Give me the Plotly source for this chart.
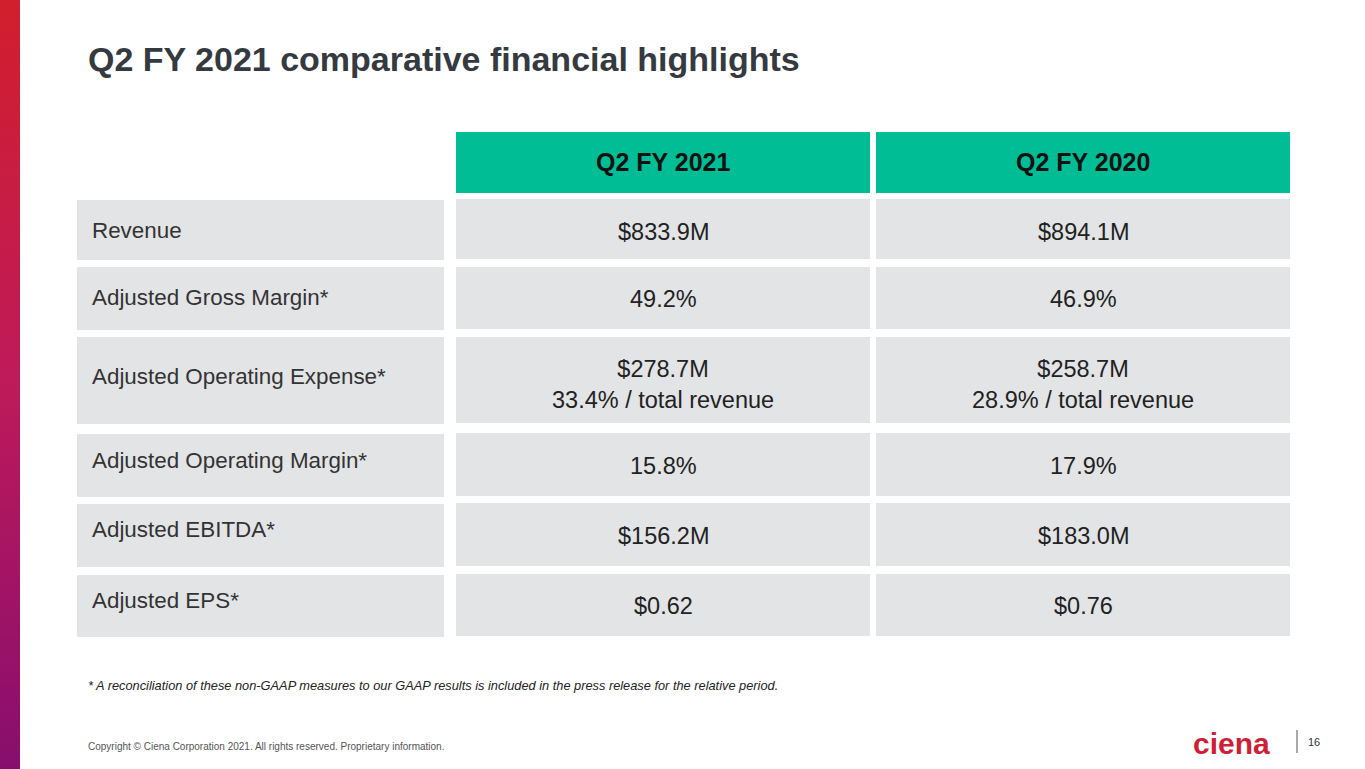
import plotly.graph_objects as go

# ── data ──────────────────────────────────────────────────────────────
TITLE = "Q2 FY 2021 comparative financial highlights"
PERIODS = ["Q2 FY 2021", "Q2 FY 2020"]
METRICS = ["Revenue", "Adjusted Gross Margin*", "Adjusted Operating Expense*",
           "Adjusted Operating Margin*", "Adjusted EBITDA*", "Adjusted EPS*"]
Q2_FY2021 = ["$833.9M", "49.2%", "$278.7M<br>33.4% / total revenue", "15.8%", "$156.2M", "$0.62"]
Q2_FY2020 = ["$894.1M", "46.9%", "$258.7M<br>28.9% / total revenue", "17.9%", "$183.0M", "$0.76"]
FOOTNOTE = ("* A reconciliation of these non-GAAP measures to our GAAP results is included "
            "in the press release for the relative period.")
COPYRIGHT = "Copyright © Ciena Corporation 2021. All rights reserved. Proprietary information."
PAGE_NO = "16"

# ── layout (page pixels) ──────────────────────────────────────────────
W, H = 1365, 769
FONT = "Arial, 'Liberation Sans', sans-serif"
GREEN, GREY, RED = "#00BD96", "#E3E4E6", "#CE1F37"

LABEL_COL = (77, 444)
VALUE_COLS = [(456, 870), (876, 1290)]
HEAD_TOP, HEAD_H = 132, 60.5
ROW_TOP = [199, 266.5, 336.7, 433.3, 503, 574]
ROW_H = [59.5, 62.2, 86, 62.4, 62.7, 61.7]
LABEL_DY = [2, 0, -3, -4, -5, -4]
VALUE_DY = [3, 1, 5, 1.5, 1.5, 1]

fig = go.Figure()

# left gradient band (colorscale runs bottom -> top)
fig.add_trace(go.Scatter(
    x=[0, 20, 20, 0, 0], y=[0, 0, H, H, 0], mode="lines", fill="toself",
    line=dict(width=0),
    fillgradient=dict(type="vertical",
                      colorscale=[[0, "#880E6E"], [0.5, "#BE1A5A"], [1, "#D21F2D"]]),
    hoverinfo="skip", showlegend=False))

# label column cells
lx0, lx1 = LABEL_COL
fig.add_trace(go.Bar(
    x=[(lx0 + lx1) / 2] * len(METRICS), width=[lx1 - lx0] * len(METRICS),
    base=[t + 0.5 for t in ROW_TOP], y=[h + 1 for h in ROW_H],
    marker=dict(color=GREY, line=dict(width=0)),
    hovertext=METRICS, hoverinfo="text", showlegend=False))

# value columns: header + rows
for (x0, x1), period, vals in zip(VALUE_COLS, PERIODS, [Q2_FY2021, Q2_FY2020]):
    n = len(vals) + 1
    fig.add_trace(go.Bar(
        x=[(x0 + x1) / 2] * n, width=[x1 - x0] * n,
        base=[HEAD_TOP] + ROW_TOP, y=[HEAD_H] + ROW_H,
        marker=dict(color=[GREEN] + [GREY] * len(vals), line=dict(width=0)),
        hovertext=[period] + [v.replace("<br>", " ") for v in vals],
        hoverinfo="text", showlegend=False))
    fig.add_annotation(x=(x0 + x1) / 2, y=HEAD_TOP + HEAD_H / 2, text=f"<b>{period}</b>",
                       showarrow=False, font=dict(size=25, color="#111111"))
    for v, t, h, dy in zip(vals, ROW_TOP, ROW_H, VALUE_DY):
        fig.add_annotation(x=(x0 + x1) / 2, y=t + h / 2 + dy, text=v, showarrow=False,
                           font=dict(size=23.5, color="#222222"))

for m, t, h, dy in zip(METRICS, ROW_TOP, ROW_H, LABEL_DY):
    fig.add_annotation(x=lx0 + 13, y=t + h / 2 + dy, text=m, showarrow=False,
                       xanchor="left", font=dict(size=22.4, color="#333333"))

# title, footnote, footer
fig.add_annotation(x=86, y=59, text=f"<b>{TITLE}</b>", showarrow=False, xanchor="left",
                   font=dict(size=34, color="#353A40"))
fig.add_annotation(x=86, y=685, text=f"<i>{FOOTNOTE}</i>", showarrow=False, xanchor="left",
                   font=dict(size=12.8, color="#222222"))
fig.add_annotation(x=86, y=746, text=COPYRIGHT, showarrow=False, xanchor="left",
                   font=dict(size=10, color="#555555"))
fig.add_annotation(x=1191, y=743, text="<b>ciena</b>", showarrow=False, xanchor="left",
                   font=dict(size=30, color=RED))
fig.add_annotation(x=1306, y=742, text=PAGE_NO, showarrow=False, xanchor="left",
                   font=dict(size=11, color="#333333"))
fig.add_shape(type="line", x0=1297, x1=1297, y0=730, y1=753,
              line=dict(color="#555555", width=1))

fig.update_xaxes(range=[0, W], visible=False, fixedrange=True)
fig.update_yaxes(range=[H, 0], visible=False, fixedrange=True)
fig.update_layout(
    width=W, height=H, margin=dict(l=0, r=0, t=0, b=0),
    barmode="overlay", bargap=0,
    plot_bgcolor="#FFFFFF", paper_bgcolor="#FFFFFF",
    font=dict(family=FONT), showlegend=False)

# drop the browser's default body margin so the slide fills the window
fig.write_html("out.html", config={"displayModeBar": False},
               post_script="document.body.style.margin = '0';")
